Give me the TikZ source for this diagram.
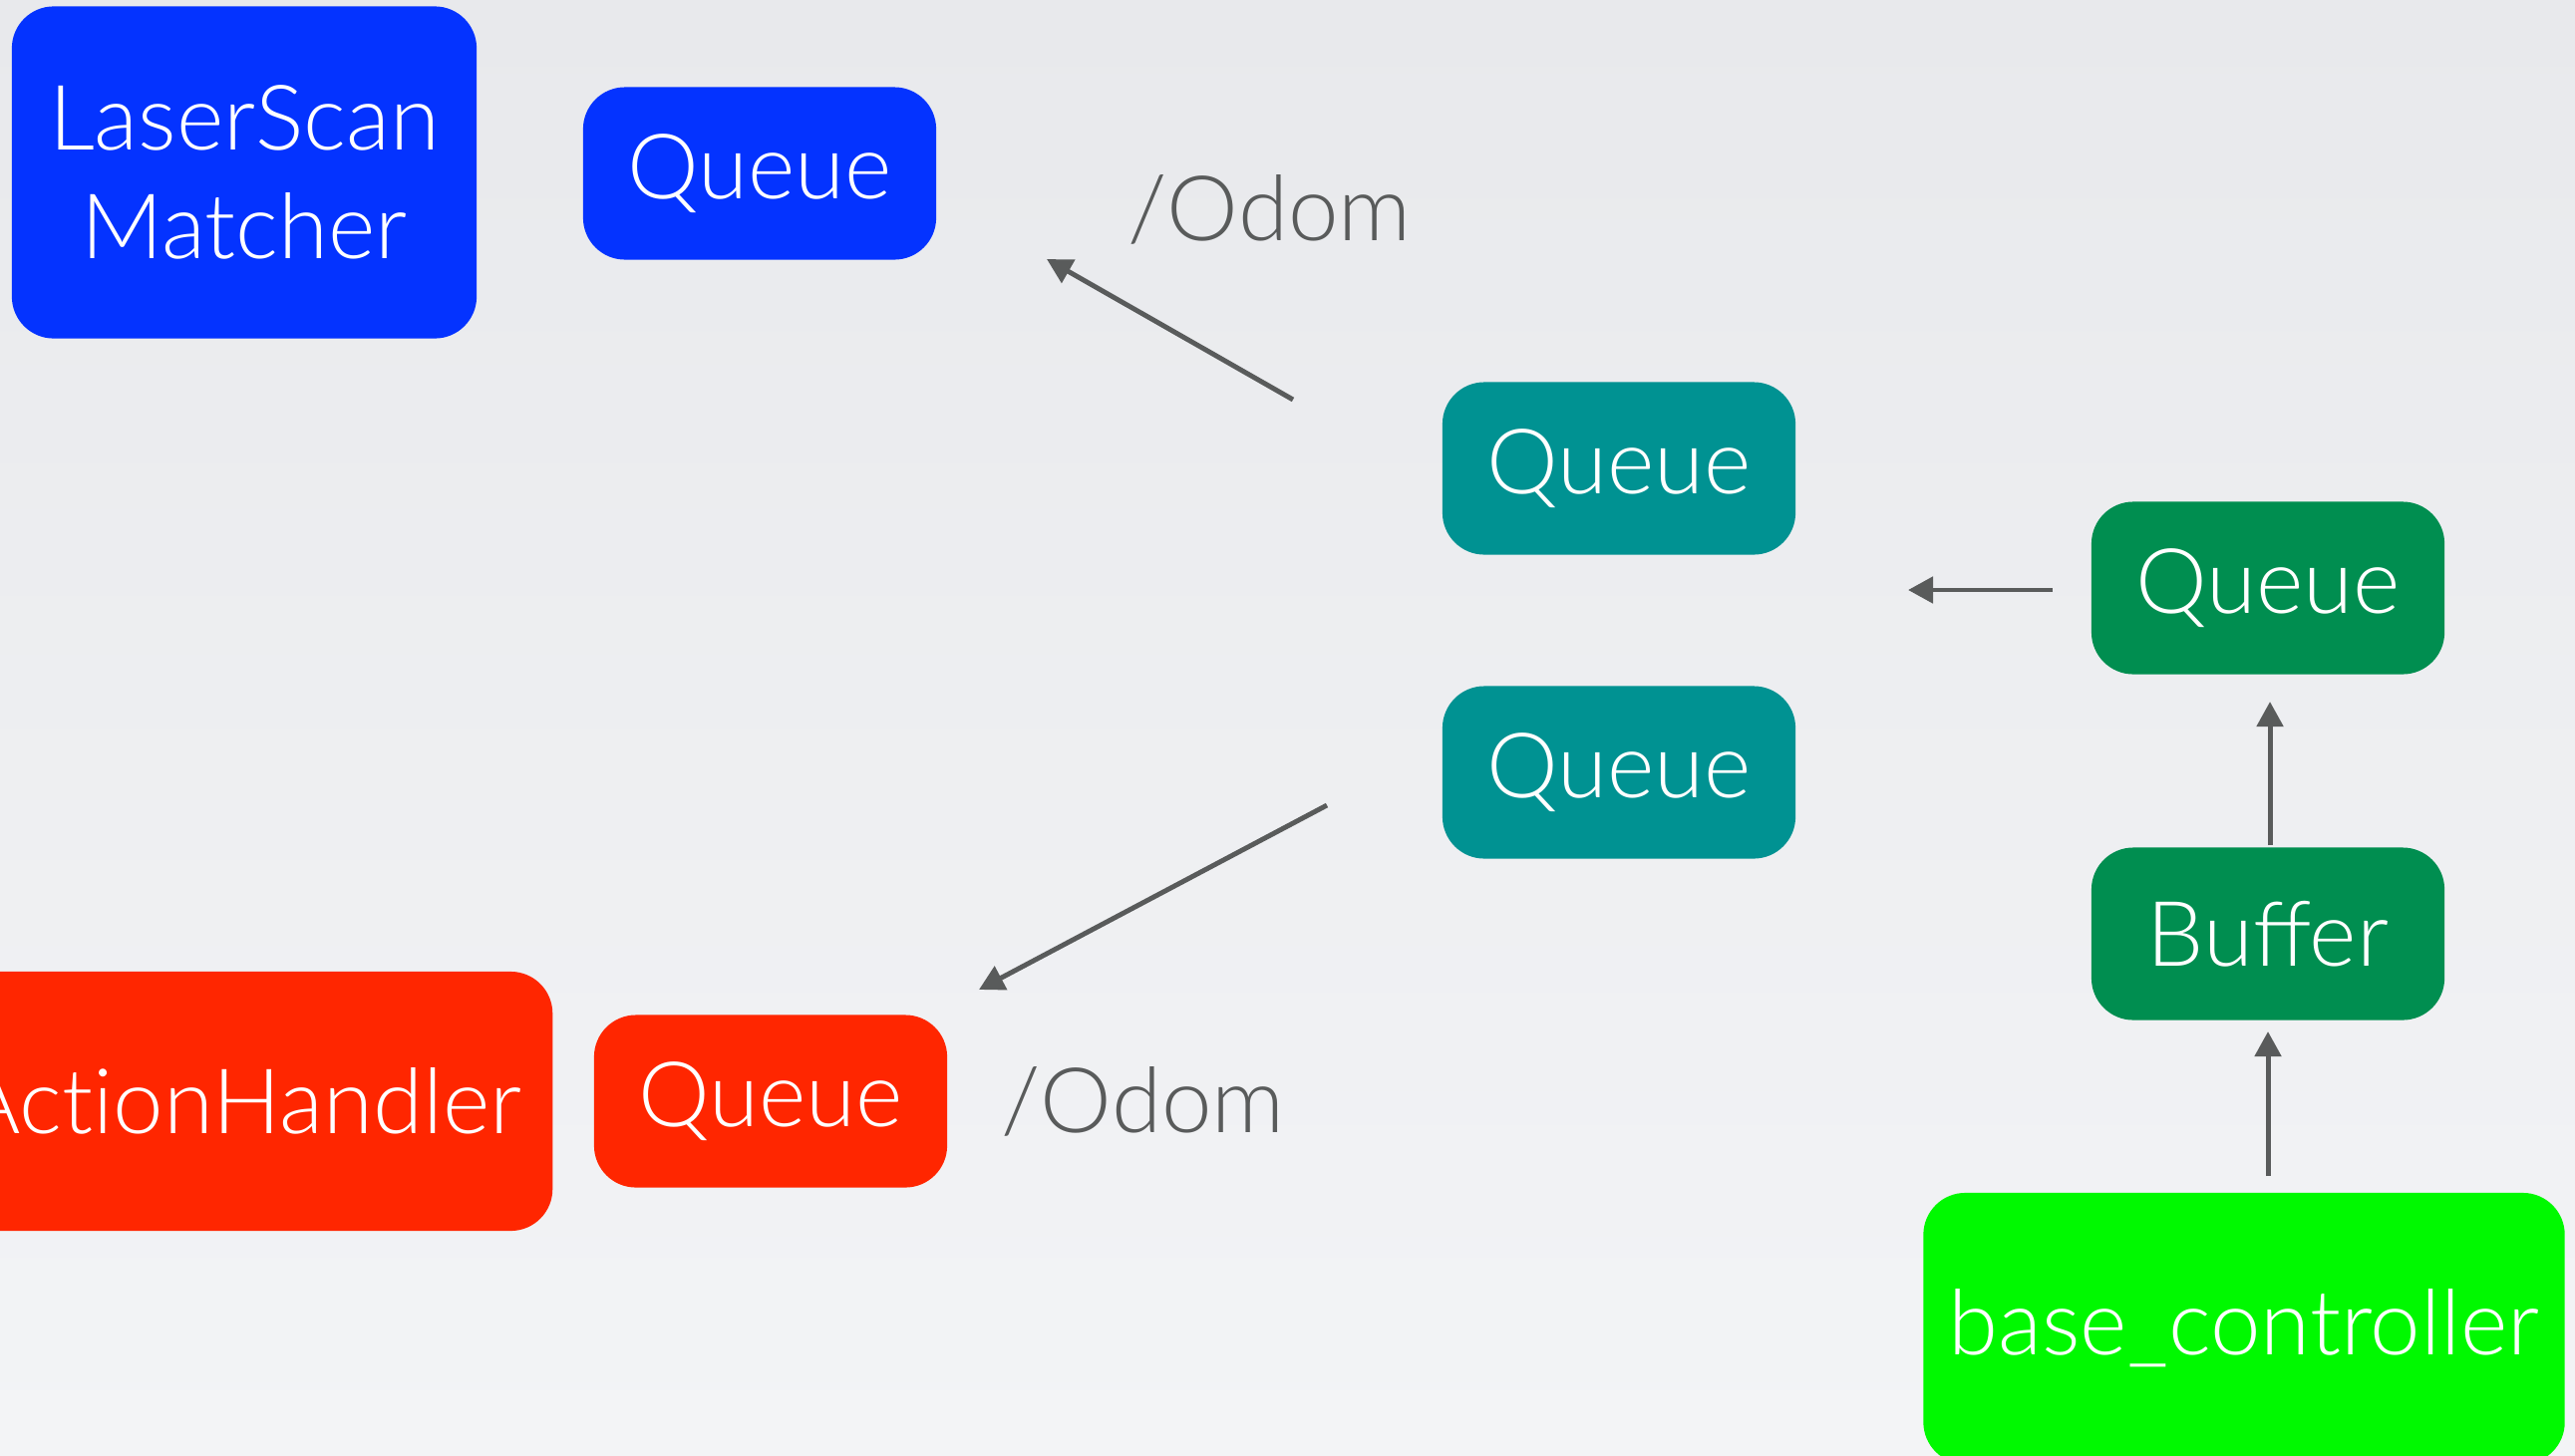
\documentclass[tikz,border=0pt]{standalone}
\usepackage{fontspec}
\setmainfont{Lato Light}
\newfontfamily\plainlig{Lato Light}[Ligatures={NoCommon,NoRare,NoDiscretionary}]
\usetikzlibrary{arrows.meta}
\definecolor{bgtop}{HTML}{E8E9EC}
\definecolor{bgbot}{HTML}{F3F4F6}
\definecolor{laserblue}{HTML}{0433FF}
\definecolor{actionred}{HTML}{FF2600}
\definecolor{teal}{HTML}{009292}
\definecolor{clover}{HTML}{008E50}
\definecolor{lime}{HTML}{00F900}
\definecolor{wire}{HTML}{595B5B}
\tikzset{
  box/.style={rectangle, rounded corners=0.42cm, text=white, inner sep=0pt,
    font=\fontsize{25.8}{31}\selectfont, align=center},
  queuebox/.style={box, minimum width=3.54cm, minimum height=1.73cm},
  topic/.style={text=wire, font=\fontsize{25.8}{31}\selectfont, inner sep=0pt},
  flow/.style={draw=wire, line width=1.4pt,
    -{Triangle[length=0.25cm, width=0.26cm]}}
}
\begin{document}
\begin{tikzpicture}[x=0.01cm, y=-0.01cm]
  \useasboundingbox (0,0) rectangle (2583,1460);
  \clip (0,0) rectangle (2583,1460);
  \shade[top color=bgtop, bottom color=bgbot] (0,0) rectangle (2583,1460);

  % nodes
  \node[box, fill=laserblue, minimum width=4.66cm, minimum height=3.33cm]
    (lsm) at (245,173) {LaserScan\\Matcher};
  \node[queuebox, fill=laserblue] (qlsm) at (762,174) {Queue};
  \node[queuebox, fill=teal] (qt1) at (1624,470) {Queue};
  \node[queuebox, fill=teal] (qt2) at (1624,775) {Queue};
  \node[queuebox, fill=clover] (qg) at (2275,590) {Queue};
  \node[queuebox, fill=clover] (buf) at (2275,937) {Buffer};
  \node[box, fill=lime, minimum width=6.43cm, minimum height=2.72cm]
    (bc) at (2251,1333) {base\_controller};
  \node[box, fill=actionred, minimum height=2.6cm, text width=6.7cm,
    align=right, inner xsep=0.31cm, anchor=east,
    font=\plainlig\fontsize{25.8}{31}\selectfont]
    (ah) at (555,1105) {ActionHandler};
  \node[queuebox, fill=actionred] (qah) at (773,1105) {Queue};

  % topic labels
  \node[topic, anchor=base west] (odom1) at (1131,241) {/Odom};
  \node[topic, anchor=base west] (odom2) at (1004,1136) {/Odom};

  % arrow end points
  \coordinate (a1s) at (1297,401);
  \coordinate (a1e) at (1050,260);
  \coordinate (a2s) at (1331,808);
  \coordinate (a2e) at (982,993);
  \coordinate (a3s) at (2059,592);
  \coordinate (a3e) at (1914,592);
  \coordinate (a4s) at (2277,848);
  \coordinate (a4e) at (2277,704);
  \coordinate (a5s) at (2275,1180);
  \coordinate (a5e) at (2275,1035);

  % data flow
  \draw[flow] (a1s) -- (a1e);
  \draw[flow] (a2s) -- (a2e);
  \draw[flow] (a3s) -- (a3e);
  \draw[flow] (a4s) -- (a4e);
  \draw[flow] (a5s) -- (a5e);
\end{tikzpicture}
\end{document}
